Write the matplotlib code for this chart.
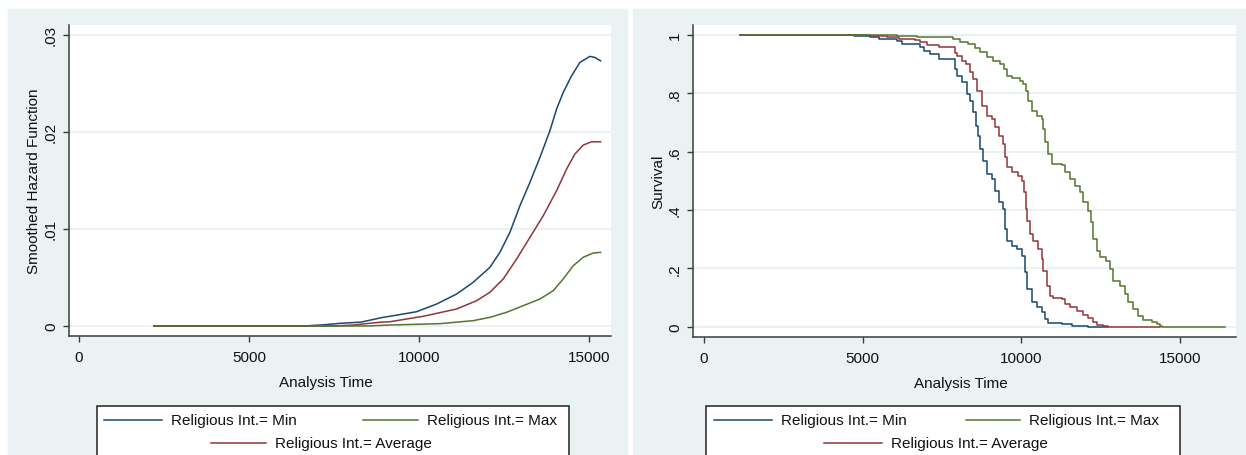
import matplotlib
matplotlib.use("Agg")
from matplotlib import pyplot as plt
from matplotlib.patches import Rectangle
from matplotlib.lines import Line2D

plt.rcParams['font.family'] = ['Liberation Sans', 'DejaVu Sans']

W, H = 1246, 456

# ---- left panel: smoothed hazard ----
haz_min_t = [2200, 6600, 7200, 7700, 8300, 8900, 9147, 9931, 10520, 11108, 11598, 12088, 12382,
             12676, 12971, 13265, 13559, 13853, 14049, 14245, 14490, 14735, 15029, 15176, 15343]
haz_min_h = [0, 0, 0.00012, 0.00028, 0.0004, 0.00086, 0.0010, 0.00147, 0.00226, 0.00329, 0.0045,
             0.00604, 0.00758, 0.00964, 0.01238, 0.01478, 0.01735, 0.02009, 0.02233, 0.02404,
             0.02575, 0.02713, 0.02775, 0.02764, 0.02729]

haz_max_t = [2200, 8500, 9147, 10618, 11598, 12088, 12579, 13068, 13559, 13950, 14245, 14538,
             14833, 15126, 15343]
haz_max_h = [0, 0, 0.0001, 0.00024, 0.00055, 0.00089, 0.00141, 0.00209, 0.00278, 0.00363,
             0.00484, 0.0062, 0.00707, 0.00751, 0.00758]

haz_avg_t = [2200, 7500, 8071, 8897, 9147, 10127, 11108, 11696, 12088, 12480, 12873, 13265,
             13657, 14049, 14343, 14588, 14833, 15078, 15343]
haz_avg_h = [0, 0, 0.0001, 0.0004, 0.00044, 0.0010, 0.00175, 0.0026, 0.00347, 0.00484, 0.00689,
             0.00912, 0.01135, 0.01392, 0.01615, 0.0177, 0.01862, 0.01896, 0.01896]

# ---- right panel: survival (step) ----
surv_min_t = [1130, 4716, 5241, 5502, 6081, 6238, 6815, 6920, 7130, 7391, 7916, 7968, 8126,
              8283, 8388, 8493, 8577, 8650, 8703, 8787, 8913, 9070, 9175, 9310, 9436, 9491,
              9563, 9701, 9858, 10016, 10119, 10192, 10331, 10488, 10646, 10751, 10856, 11275,
              11590, 11852, 12100, 12690]
surv_min_s = [1.0, 0.996, 0.993, 0.988, 0.980, 0.970, 0.959, 0.945, 0.936, 0.918, 0.885, 0.860,
              0.838, 0.798, 0.775, 0.735, 0.689, 0.655, 0.609, 0.569, 0.523, 0.506, 0.466, 0.426,
              0.404, 0.335, 0.295, 0.278, 0.266, 0.243, 0.186, 0.129, 0.084, 0.066, 0.049, 0.026,
              0.013, 0.009, 0.003, 0.001, 0.0, 0.0]

surv_avg_t = [1130, 5241, 5766, 6132, 6657, 6815, 7025, 7391, 7916, 7968, 8126, 8262, 8388,
              8493, 8598, 8755, 8913, 9070, 9175, 9310, 9436, 9491, 9543, 9701, 9909, 10016,
              10088, 10151, 10192, 10277, 10382, 10540, 10646, 10696, 10803, 10908, 11013,
              11275, 11380, 11537, 11748, 11958, 12116, 12273, 12378, 12588, 12745, 14371]
surv_avg_s = [1.0, 0.996, 0.993, 0.988, 0.984, 0.975, 0.966, 0.958, 0.940, 0.929, 0.912, 0.901,
              0.872, 0.849, 0.809, 0.758, 0.723, 0.712, 0.684, 0.655, 0.626, 0.581, 0.546, 0.531,
              0.518, 0.50, 0.461, 0.404, 0.363, 0.318, 0.295, 0.266, 0.232, 0.192, 0.141, 0.106,
              0.097, 0.095, 0.078, 0.066, 0.055, 0.040, 0.031, 0.015, 0.006, 0.003, 0.0, 0.0]

surv_max_t = [1130, 6081, 6710, 7863, 8073, 8336, 8545, 8703, 8913, 9122, 9333, 9459, 9543,
              9701, 9962, 10067, 10151, 10225, 10331, 10488, 10646, 10696, 10751, 10856, 10961,
              11275, 11380, 11537, 11695, 11852, 11958, 12116, 12189, 12273, 12378, 12483,
              12672, 12798, 12903, 13113, 13270, 13375, 13532, 13690, 13847, 14108, 14266,
              14371, 14450, 16405]
surv_max_s = [1.0, 0.998, 0.993, 0.987, 0.976, 0.969, 0.954, 0.941, 0.924, 0.912, 0.901, 0.883,
              0.860, 0.852, 0.843, 0.832, 0.809, 0.775, 0.740, 0.723, 0.712, 0.678, 0.632, 0.592,
              0.558, 0.554, 0.529, 0.506, 0.483, 0.461, 0.426, 0.398, 0.358, 0.301, 0.261, 0.238,
              0.226, 0.198, 0.158, 0.141, 0.112, 0.084, 0.061, 0.038, 0.024, 0.015, 0.009, 0.001,
              0.0, 0.0]

legend_labels = ['Religious Int.= Min', 'Religious Int.= Max', 'Religious Int.= Average']
x_ticks = [0, 5000, 10000, 15000]
haz_ticks = [0, 0.01, 0.02, 0.03]
haz_tick_labels = ['0', '.01', '.02', '.03']
surv_ticks = [0, 0.2, 0.4, 0.6, 0.8, 1.0]
surv_tick_labels = ['0', '.2', '.4', '.6', '.8', '1']

NAVY = '#1a476f'
MAROON = '#90353b'
GREEN = '#55752f'
BG = '#eaf2f3'
AXC = '#3c3c3c'


def fx(x):
    return x / W


def fy(y):
    return 1 - y / H


def box(x0, y0, x1, y1):
    # pixel box (top-left origin) -> figure rect
    return [fx(x0), fy(y1), fx(x1) - fx(x0), fy(y0) - fy(y1)]


fig = plt.figure(figsize=(W / 100, H / 100), dpi=100, facecolor='white')
fig.patches.append(Rectangle((fx(8), fy(456)), fx(627) - fx(8), fy(10) - fy(456),
                             transform=fig.transFigure, color=BG, zorder=-5))
fig.patches.append(Rectangle((fx(633), fy(456)), fx(1246) - fx(633), fy(10) - fy(456),
                             transform=fig.transFigure, color=BG, zorder=-5))


def style_axes(ax, yticks, ylabels, ylabel, xlabel_x, ylabel_x):
    ax.set_facecolor('white')
    for s in ['top', 'right']:
        ax.spines[s].set_visible(False)
    for s in ['left', 'bottom']:
        ax.spines[s].set_color(AXC)
        ax.spines[s].set_linewidth(1.1)
    ax.set_xticks(x_ticks)
    ax.set_xticklabels([str(t) for t in x_ticks])
    ax.set_yticks(yticks)
    ax.set_yticklabels(ylabels, rotation=90, va='center')
    ax.tick_params(axis='both', direction='out', length=4, width=1, color=AXC,
                   labelsize=11, labelcolor='#111111')
    ax.tick_params(axis='x', pad=6)
    ax.tick_params(axis='y', pad=4)
    ax.grid(axis='y', color='#e4eef0', linewidth=1.1)
    ax.set_axisbelow(True)
    ax.set_xlabel('Analysis Time', fontsize=11, color='#111111')
    ax.xaxis.set_label_coords(xlabel_x, -0.125)
    ax.set_ylabel(ylabel, fontsize=11, color='#111111')
    ax.yaxis.set_label_coords(ylabel_x, 0.5)


def draw_legend(x0, x1, entries):
    fig.patches.append(Rectangle((fx(x0), fy(470)), fx(x1) - fx(x0), fy(407) - fy(470),
                                 transform=fig.transFigure, facecolor='white',
                                 edgecolor='#222222', linewidth=1.1, zorder=2))
    for (lx0, lx1, ty, color, label) in entries:
        fig.lines.append(Line2D([fx(lx0), fx(lx1)], [fy(ty), fy(ty)], transform=fig.transFigure,
                                color=color, linewidth=1.1, zorder=3))
        fig.text(fx(lx1 + 9), fy(ty), label, fontsize=11, color='#111111',
                 va='center', ha='left', zorder=4)


# left panel
ax1 = fig.add_axes(box(69, 26, 611, 337))
ax1.plot(haz_min_t, haz_min_h, color=NAVY, linewidth=1.1)
ax1.plot(haz_avg_t, haz_avg_h, color=MAROON, linewidth=1.1)
ax1.plot(haz_max_t, haz_max_h, color=GREEN, linewidth=1.1)
ax1.set_xlim(-294, 15650)
ax1.set_ylim(-0.00103, 0.03098)
style_axes(ax1, haz_ticks, haz_tick_labels, 'Smoothed Hazard Function', 0.474, -0.051)

# right panel
ax2 = fig.add_axes(box(693, 26, 1236, 338))
ax2.plot(surv_min_t, surv_min_s, color=NAVY, linewidth=1.1, drawstyle='steps-post')
ax2.plot(surv_avg_t, surv_avg_s, color=MAROON, linewidth=1.1, drawstyle='steps-post')
ax2.plot(surv_max_t, surv_max_s, color=GREEN, linewidth=1.1, drawstyle='steps-post')
ax2.set_xlim(-347, 16767)
ax2.set_ylim(-0.0353, 1.0343)
style_axes(ax2, surv_ticks, surv_tick_labels, 'Survival', 0.494, -0.05)

draw_legend(97, 569, [(104, 162, 421, NAVY, legend_labels[0]),
                      (363, 418, 421, GREEN, legend_labels[1]),
                      (211, 266, 444, MAROON, legend_labels[2])])
draw_legend(706, 1180, [(714, 772, 421, NAVY, legend_labels[0]),
                        (966, 1020, 421, GREEN, legend_labels[1]),
                        (824, 882, 444, MAROON, legend_labels[2])])

fig.savefig('out.png', dpi=100, facecolor='white')
